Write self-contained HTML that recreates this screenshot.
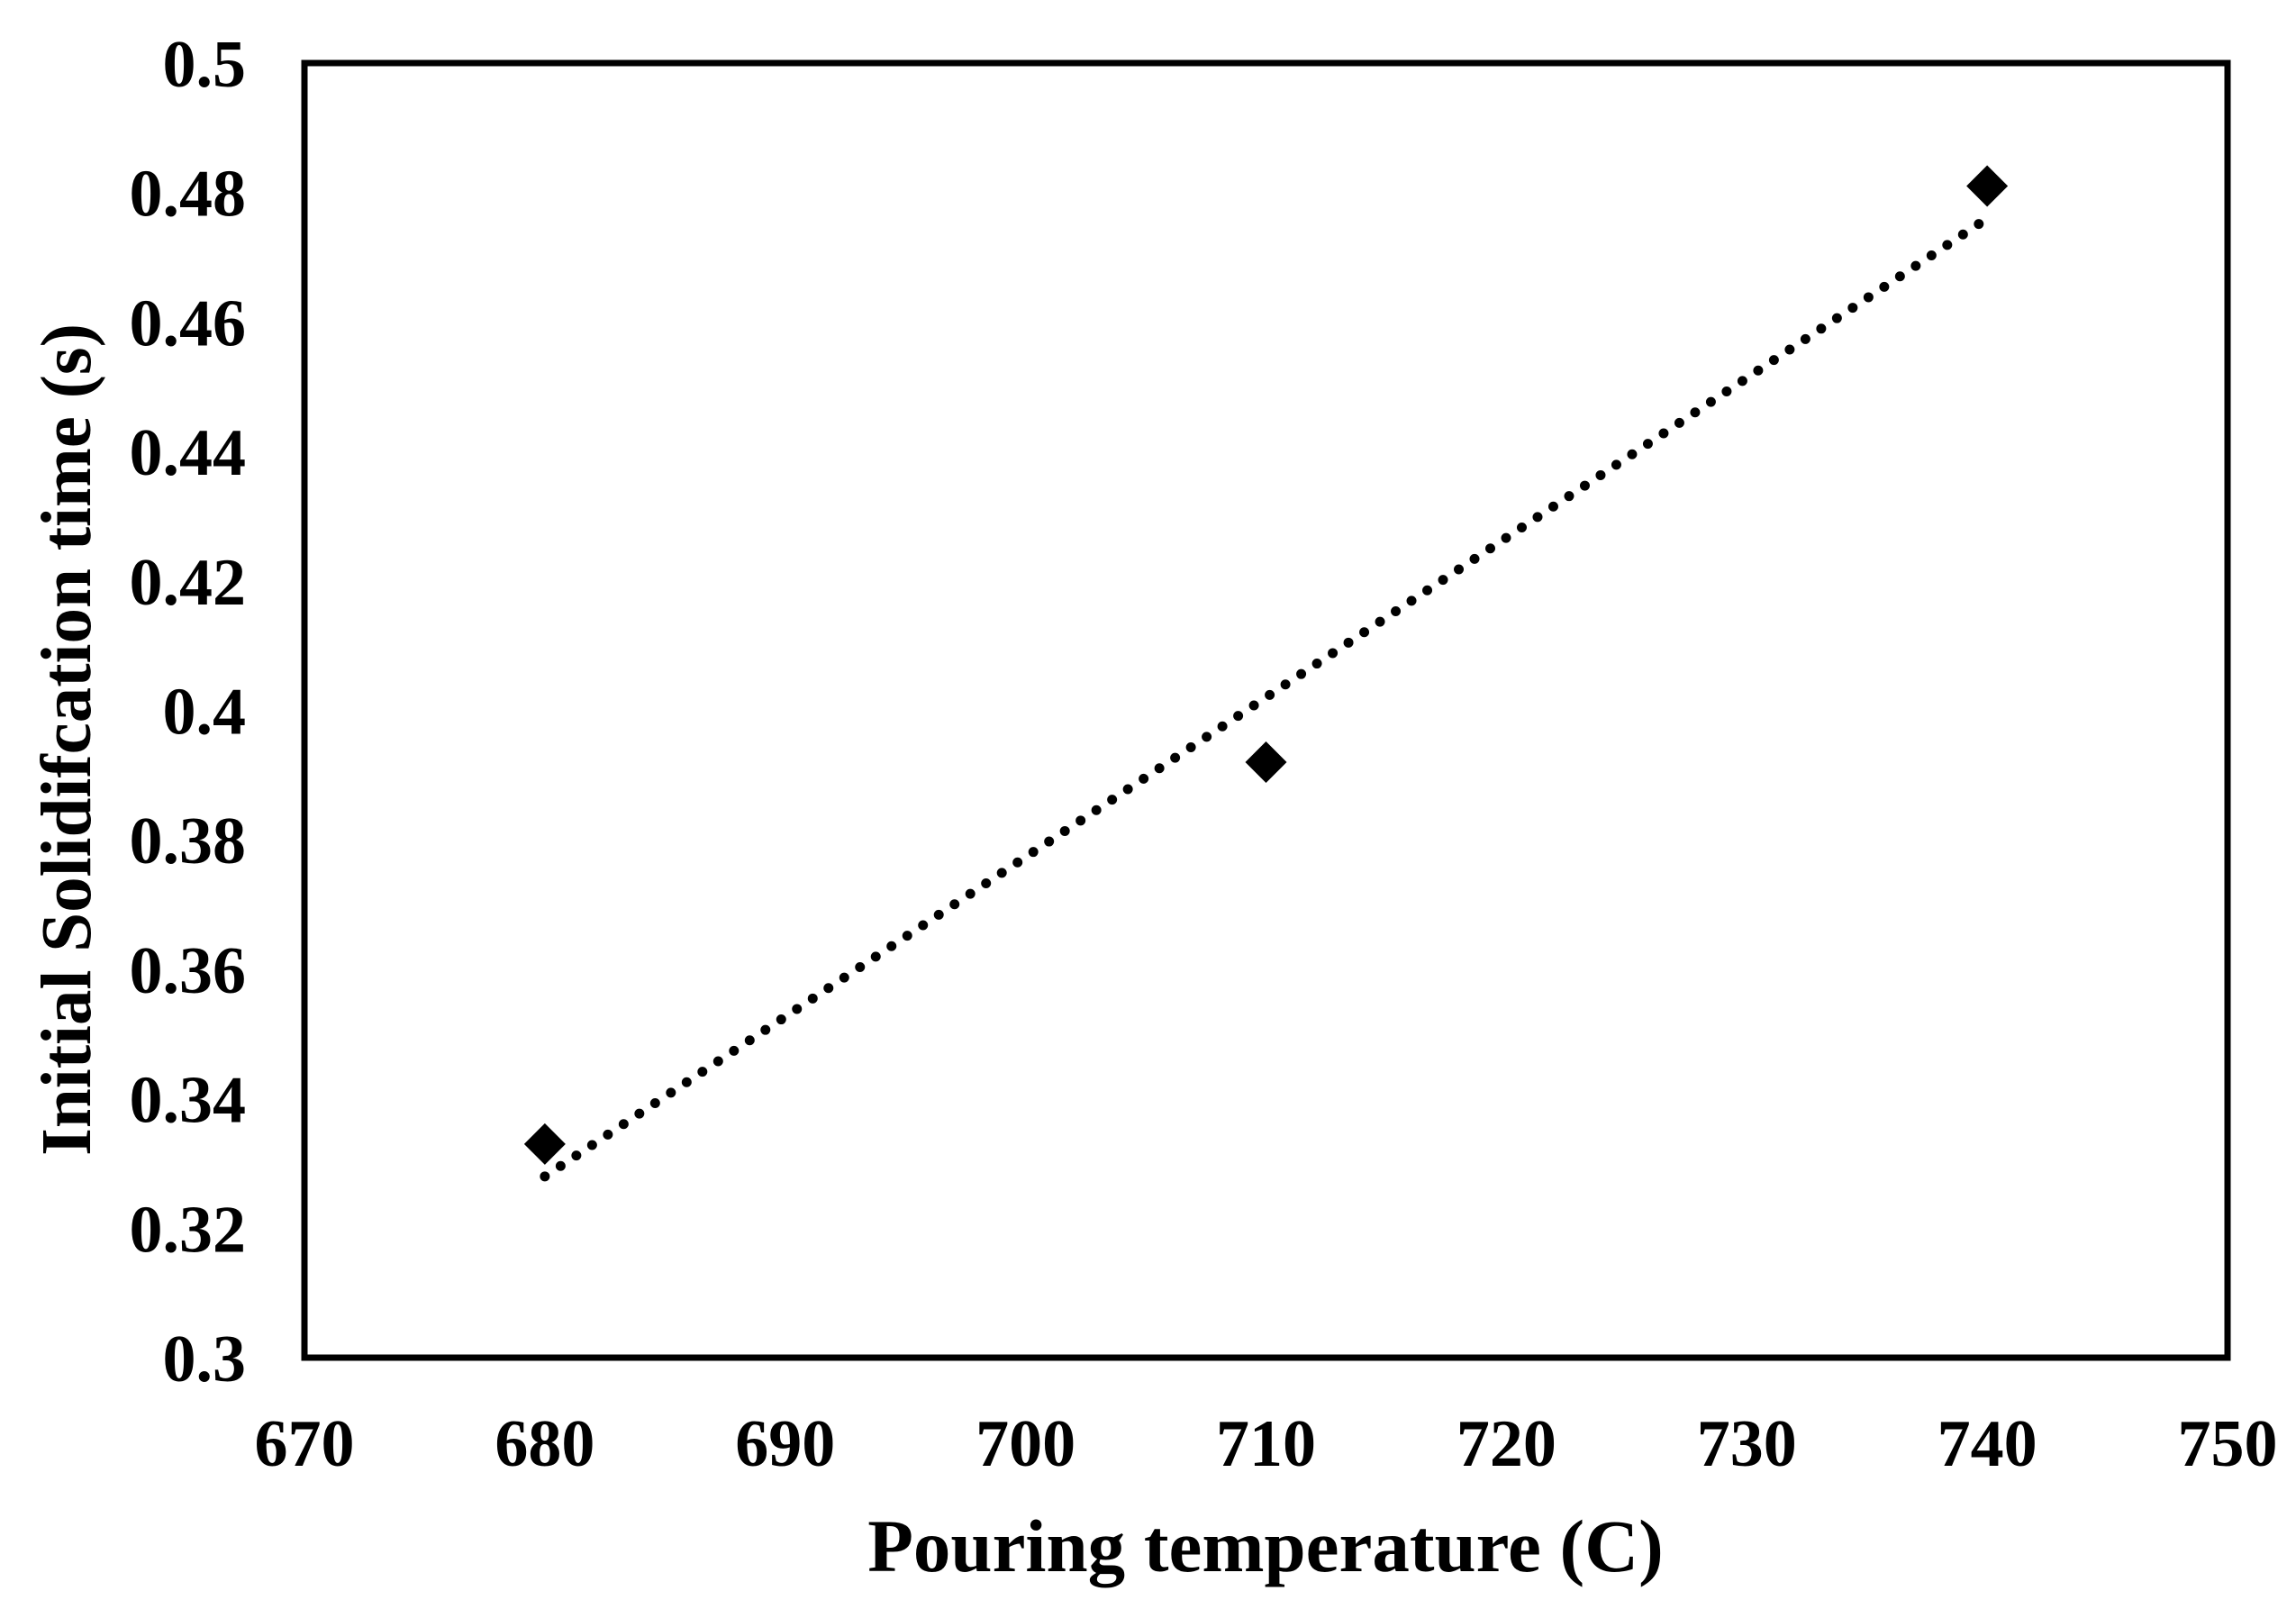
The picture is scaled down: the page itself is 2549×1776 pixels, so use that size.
<!DOCTYPE html>
<html><head><meta charset="utf-8"><style>
html,body{margin:0;padding:0;background:#fff;}
svg{display:block;}
text{font-family:"Liberation Serif","Times New Roman",serif;font-weight:bold;fill:#000;}
</style></head><body>
<svg id="chart" width="2549" height="1776" viewBox="0 0 2549 1776" xmlns="http://www.w3.org/2000/svg">
<g id="ticks"></g>
<g id="marks"></g>
<rect x="338" y="70" width="2135" height="1437" fill="none" stroke="#000" stroke-width="7"/>
<text x="1405" y="1744" font-size="83" text-anchor="middle">Pouring temperature (C)</text>
<text transform="translate(100,821) rotate(-90)" font-size="79" text-anchor="middle">Initial Solidifcation time (s)</text>
</svg>
<script>
const xTicks = [670, 680, 690, 700, 710, 720, 730, 740, 750];
const yTicks = [0.3, 0.32, 0.34, 0.36, 0.38, 0.4, 0.42, 0.44, 0.46, 0.48, 0.5];
const yTickLabels = ["0.3","0.32","0.34","0.36","0.38","0.4","0.42","0.44","0.46","0.48","0.5"];
const temps = [680, 710, 740];
const times = [0.333, 0.392, 0.481];

const NS = "http://www.w3.org/2000/svg";
const L = 338, R = 2473, T = 70, B = 1507;
function xs(v){ return L + (v - 670) / (750 - 670) * (R - L); }
function ys(v){ return B - (v - 0.3) / (0.5 - 0.3) * (B - T); }

const tg = document.getElementById('ticks');
xTicks.forEach(v => {
  const t = document.createElementNS(NS, 'text');
  
  
  t.setAttribute('x', xs(v)); t.setAttribute('y', 1627);
  t.setAttribute('font-size', 74); t.setAttribute('text-anchor', 'middle');
  t.textContent = v; tg.appendChild(t);
});
yTicks.forEach((v, i) => {
  const t = document.createElementNS(NS, 'text');
  
  
  t.setAttribute('x', 273); t.setAttribute('y', ys(v) + 26);
  t.setAttribute('font-size', 74); t.setAttribute('text-anchor', 'end');
  t.textContent = yTickLabels[i]; tg.appendChild(t);
});

const n = temps.length;
const mx = temps.reduce((a,b)=>a+b,0)/n, my = times.reduce((a,b)=>a+b,0)/n;
let sxy = 0, sxx = 0;
for (let i = 0; i < n; i++){ sxy += (temps[i]-mx)*(times[i]-my); sxx += (temps[i]-mx)**2; }
const slope = sxy/sxx, icpt = my - slope*mx;
const x0 = Math.min(...temps), x1 = Math.max(...temps);
const mg = document.getElementById('marks');
const ln = document.createElementNS(NS, 'line');


ln.setAttribute('x1', xs(x0)); ln.setAttribute('y1', ys(slope*x0+icpt));
ln.setAttribute('x2', xs(x1)); ln.setAttribute('y2', ys(slope*x1+icpt));
ln.setAttribute('stroke', '#000'); ln.setAttribute('stroke-width', 11);
ln.setAttribute('stroke-linecap', 'round'); ln.setAttribute('stroke-dasharray', '0 21');
mg.appendChild(ln);

temps.forEach((v, i) => {
  const cx = xs(v), cy = ys(times[i]), r = 23;
  const p = document.createElementNS(NS, 'polygon');
  
  
  p.setAttribute('points', `${cx},${cy-r} ${cx+r},${cy} ${cx},${cy+r} ${cx-r},${cy}`);
  p.setAttribute('fill', '#000');
  mg.appendChild(p);
});
</script>
</body></html>
